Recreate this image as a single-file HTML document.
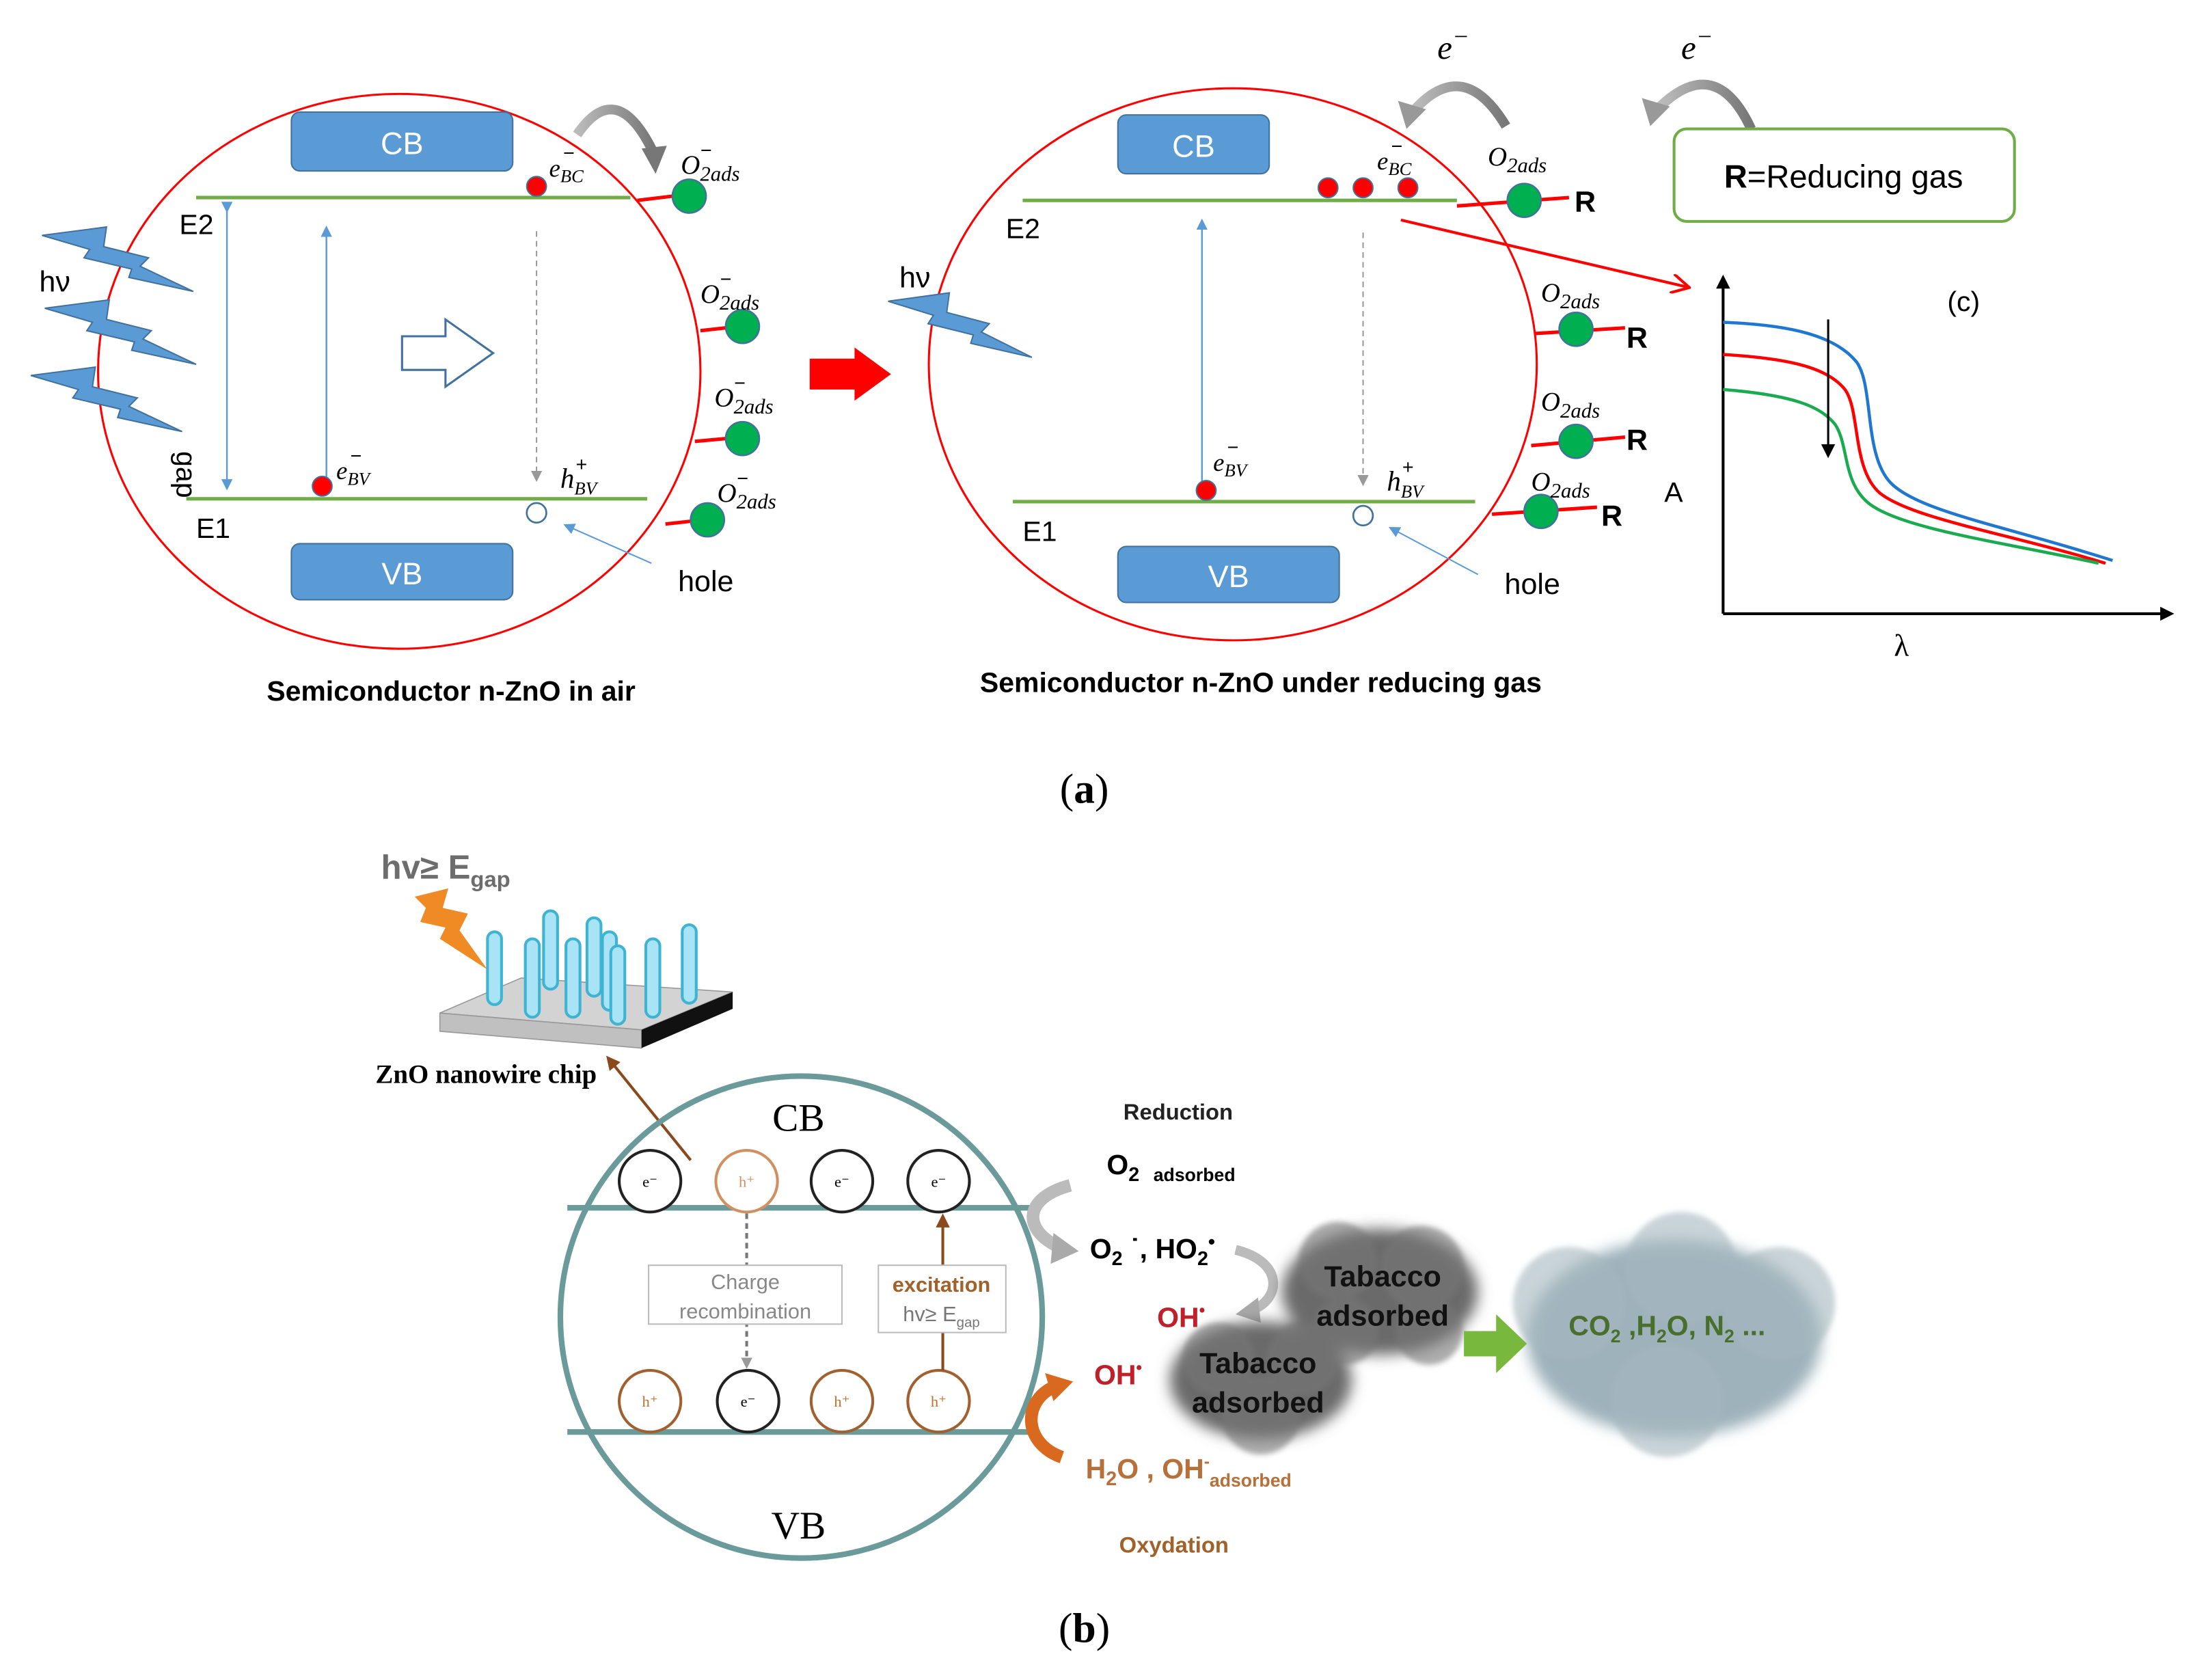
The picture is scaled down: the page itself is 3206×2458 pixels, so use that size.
<!DOCTYPE html>
<html><head><meta charset="utf-8"><style>html,body{margin:0;padding:0;background:#fff}svg{display:block}</style></head><body>
<svg xmlns="http://www.w3.org/2000/svg" width="3206" height="2458" viewBox="0 0 1564 1199" preserveAspectRatio="none" font-family="Liberation Sans, sans-serif">
<defs>
<marker id="ab" markerWidth="8" markerHeight="8" refX="6" refY="4" orient="auto" markerUnits="userSpaceOnUse"><path d="M0,0 L8,4 L0,8 z" fill="#5b9bd5"/></marker>
<marker id="ag" markerWidth="8" markerHeight="8" refX="6" refY="4" orient="auto" markerUnits="userSpaceOnUse"><path d="M0,0 L8,4 L0,8 z" fill="#999"/></marker>
<marker id="ak" markerWidth="10" markerHeight="10" refX="8" refY="5" orient="auto" markerUnits="userSpaceOnUse"><path d="M0,0 L10,5 L0,10 z" fill="#000"/></marker>
<marker id="ar" markerWidth="14" markerHeight="14" refX="12" refY="7" orient="auto" markerUnits="userSpaceOnUse"><path d="M0,0 L13,7 L0,14" fill="none" stroke="red" stroke-width="2"/></marker>
<marker id="abr" markerWidth="10" markerHeight="10" refX="8" refY="5" orient="auto" markerUnits="userSpaceOnUse"><path d="M0,0 L10,5 L0,10 z" fill="#8b4a1c"/></marker>
<linearGradient id="gr" x1="0" x2="1"><stop offset="0" stop-color="#bbb"/><stop offset="1" stop-color="#777"/></linearGradient>
<g id="bolt"><polygon points="0,0 46,-6 44,8 76,16 70,22 108,40 62,30 64,24 30,16 34,10" fill="#5b9bd5" stroke="#41719c" stroke-width="1"/></g>
<filter id="bl" x="-20%" y="-20%" width="140%" height="140%"><feGaussianBlur stdDeviation="5"/></filter>
<filter id="bl2" x="-20%" y="-20%" width="140%" height="140%"><feGaussianBlur stdDeviation="2"/></filter>
</defs>

<!-- ===== Panel a left ===== -->
<ellipse cx="285" cy="265" rx="215" ry="198" fill="none" stroke="red" stroke-width="1.5"/>
<rect x="208" y="80" width="158" height="42" rx="6" fill="#5b9bd5" stroke="#41719c"/>
<text x="287" y="110" font-size="22" fill="#fff" text-anchor="middle">CB</text>
<rect x="208" y="388" width="158" height="40" rx="6" fill="#5b9bd5" stroke="#41719c"/>
<text x="287" y="417" font-size="22" fill="#fff" text-anchor="middle">VB</text>
<line x1="140" y1="141" x2="450" y2="141" stroke="#70ad47" stroke-width="2.5"/>
<line x1="133" y1="356" x2="462" y2="356" stroke="#70ad47" stroke-width="2.5"/>
<text x="128" y="167" font-size="20">E2</text>
<text x="140" y="384" font-size="20">E1</text>
<text transform="translate(126,322) rotate(90)" font-size="20">gap</text>
<line x1="162" y1="150" x2="162" y2="348" stroke="#5b9bd5" stroke-width="1.2" marker-end="url(#ab)" marker-start="url(#ab)"/>
<line x1="233" y1="345" x2="233" y2="163" stroke="#5b9bd5" stroke-width="1.2" marker-end="url(#ab)"/>
<line x1="383" y1="165" x2="383" y2="342" stroke="#999" stroke-width="1" stroke-dasharray="4,3" marker-end="url(#ag)"/>
<polygon points="287,240 318,240 318,228 352,252 318,276 318,264 287,264" fill="#fff" stroke="#41719c" stroke-width="1.5"/>
<circle cx="383" cy="133" r="7" fill="red" stroke="#41719c"/>
<text x="392" y="126" font-size="18" font-style="italic" font-family="Liberation Serif, serif">e<tspan font-size="13" dy="4">BC</tspan></text><text x="402" y="114" font-size="14">−</text>
<circle cx="230" cy="347" r="7" fill="red" stroke="#41719c"/>
<text x="240" y="342" font-size="18" font-style="italic" font-family="Liberation Serif, serif">e<tspan font-size="13" dy="4">BV</tspan></text><text x="250" y="330" font-size="14">−</text>
<circle cx="383" cy="366" r="7" fill="#fff" stroke="#41719c" stroke-width="1.3"/>
<text x="400" y="348" font-size="20" font-style="italic" font-family="Liberation Serif, serif">h<tspan font-size="13" dy="5">BV</tspan></text><text x="411" y="336" font-size="14">+</text>
<text x="484" y="422" font-size="21">hole</text>
<line x1="465" y1="402" x2="404" y2="375" stroke="#5b9bd5" stroke-width="1" marker-end="url(#ab)"/>
<path d="M412,96 Q440,55 466,108" fill="none" stroke="url(#gr)" stroke-width="7"/>
<polygon points="458,106 476,104 468,124" fill="#777"/>
<g stroke="red" stroke-width="2.5">
<line x1="455" y1="143" x2="480" y2="140"/><line x1="500" y1="236" x2="518" y2="234"/><line x1="496" y1="315" x2="518" y2="313"/><line x1="475" y1="374" x2="493" y2="372"/></g>
<g fill="#00b050" stroke="#41719c" stroke-width="1.2">
<circle cx="492" cy="140" r="12"/><circle cx="530" cy="233" r="12"/><circle cx="530" cy="313" r="12"/><circle cx="505" cy="371" r="12"/></g>
<g font-family="Liberation Serif, serif" font-style="italic" font-size="19">
<text x="486" y="124">O<tspan font-size="15" dy="5">2ads</tspan></text>
<text x="500" y="216">O<tspan font-size="15" dy="5">2ads</tspan></text>
<text x="510" y="290">O<tspan font-size="15" dy="5">2ads</tspan></text>
<text x="512" y="358">O<tspan font-size="15" dy="5">2ads</tspan></text>
</g>
<g font-size="14"><text x="500" y="112">−</text><text x="514" y="204">−</text><text x="524" y="278">−</text><text x="526" y="346">−</text></g>
<use href="#bolt" transform="translate(30,168)"/>
<use href="#bolt" transform="translate(32,220)"/>
<use href="#bolt" transform="translate(22,268)"/>
<text x="28" y="208" font-size="21">hν</text>
<text x="322" y="500" font-size="20" font-weight="bold" text-anchor="middle">Semiconductor n-ZnO in air</text>

<polygon points="578,256 610,256 610,248 636,267 610,286 610,278 578,278" fill="red"/>

<!-- ===== Panel a middle ===== -->
<ellipse cx="880" cy="260" rx="217" ry="197" fill="none" stroke="red" stroke-width="1.5"/>
<rect x="798" y="82" width="108" height="42" rx="6" fill="#5b9bd5" stroke="#41719c"/>
<text x="852" y="112" font-size="22" fill="#fff" text-anchor="middle">CB</text>
<rect x="798" y="390" width="158" height="40" rx="6" fill="#5b9bd5" stroke="#41719c"/>
<text x="877" y="419" font-size="22" fill="#fff" text-anchor="middle">VB</text>
<line x1="730" y1="143" x2="1040" y2="143" stroke="#70ad47" stroke-width="2.5"/>
<line x1="723" y1="358" x2="1053" y2="358" stroke="#70ad47" stroke-width="2.5"/>
<text x="718" y="170" font-size="20">E2</text>
<text x="730" y="386" font-size="20">E1</text>
<line x1="858" y1="345" x2="858" y2="158" stroke="#5b9bd5" stroke-width="1.2" marker-end="url(#ab)"/>
<line x1="973" y1="166" x2="973" y2="345" stroke="#999" stroke-width="1" stroke-dasharray="4,3" marker-end="url(#ag)"/>
<g fill="red" stroke="#41719c"><circle cx="948" cy="134" r="7"/><circle cx="973" cy="134" r="7"/><circle cx="1005" cy="134" r="7"/><circle cx="861" cy="350" r="7"/></g>
<text x="983" y="121" font-size="18" font-style="italic" font-family="Liberation Serif, serif">e<tspan font-size="13" dy="4">BC</tspan></text><text x="993" y="109" font-size="14">−</text>
<text x="866" y="336" font-size="18" font-style="italic" font-family="Liberation Serif, serif">e<tspan font-size="13" dy="4">BV</tspan></text><text x="876" y="324" font-size="14">−</text>
<circle cx="973" cy="368" r="7" fill="#fff" stroke="#41719c" stroke-width="1.3"/>
<text x="990" y="350" font-size="20" font-style="italic" font-family="Liberation Serif, serif">h<tspan font-size="13" dy="5">BV</tspan></text><text x="1001" y="338" font-size="14">+</text>
<text x="1074" y="424" font-size="21">hole</text>
<line x1="1055" y1="410" x2="993" y2="377" stroke="#5b9bd5" stroke-width="1" marker-end="url(#ab)"/>
<line x1="1000" y1="157" x2="1205" y2="205" stroke="red" stroke-width="2" marker-end="url(#ar)"/>
<g stroke="red" stroke-width="2.5">
<line x1="1040" y1="147" x2="1120" y2="141"/><line x1="1096" y1="238" x2="1160" y2="234"/><line x1="1093" y1="318" x2="1160" y2="312"/><line x1="1065" y1="367" x2="1140" y2="362"/></g>
<g fill="#00b050" stroke="#41719c" stroke-width="1.2">
<circle cx="1088" cy="143" r="12"/><circle cx="1125" cy="235" r="12"/><circle cx="1125" cy="315" r="12"/><circle cx="1100" cy="365" r="12"/></g>
<g font-size="21" font-weight="bold"><text x="1124" y="151">R</text><text x="1161" y="248">R</text><text x="1161" y="321">R</text><text x="1143" y="375">R</text></g>
<g font-family="Liberation Serif, serif" font-style="italic" font-size="19">
<text x="1062" y="118">O<tspan font-size="15" dy="5">2ads</tspan></text>
<text x="1100" y="215">O<tspan font-size="15" dy="5">2ads</tspan></text>
<text x="1100" y="293">O<tspan font-size="15" dy="5">2ads</tspan></text>
<text x="1093" y="350">O<tspan font-size="15" dy="5">2ads</tspan></text>
</g>
<use href="#bolt" transform="translate(634,215) scale(0.95,1)"/>
<text x="642" y="205" font-size="21">hν</text>
<text x="900" y="494" font-size="20" font-weight="bold" text-anchor="middle">Semiconductor n-ZnO under reducing gas</text>

<path d="M1075,90 Q1045,40 1010,78" fill="none" stroke="url(#gr)" stroke-width="7"/>
<polygon points="998,72 1018,78 1004,92" fill="#999"/>
<text x="1026" y="42" font-size="24" font-style="italic" font-family="Liberation Serif, serif">e<tspan font-size="18" dy="-10">−</tspan></text>
<path d="M1250,92 Q1225,38 1185,76" fill="none" stroke="url(#gr)" stroke-width="7"/>
<polygon points="1172,70 1192,76 1178,90" fill="#999"/>
<text x="1200" y="42" font-size="24" font-style="italic" font-family="Liberation Serif, serif">e<tspan font-size="18" dy="-10">−</tspan></text>
<rect x="1195" y="92" width="243" height="66" rx="9" fill="#fff" stroke="#70ad47" stroke-width="2"/>
<text x="1316" y="134" font-size="23" text-anchor="middle"><tspan font-weight="bold">R</tspan>=Reducing gas</text>

<line x1="1230" y1="438" x2="1230" y2="198" stroke="#000" stroke-width="2" marker-end="url(#ak)"/>
<line x1="1230" y1="438" x2="1550" y2="438" stroke="#000" stroke-width="2" marker-end="url(#ak)"/>
<text x="1390" y="222" font-size="20">(c)</text>
<text x="1188" y="358" font-size="20">A</text>
<text x="1352" y="468" font-size="22" font-family="Liberation Serif, serif">λ</text>
<path d="M1230,230 C1280,232 1310,240 1325,258 C1338,275 1330,325 1350,345 C1370,365 1430,375 1508,400" fill="none" stroke="#1f77d0" stroke-width="2.2"/>
<path d="M1230,253 C1280,256 1305,263 1317,278 C1328,293 1322,335 1342,352 C1365,370 1430,380 1503,402" fill="none" stroke="red" stroke-width="2.2"/>
<path d="M1230,278 C1280,282 1300,290 1310,303 C1320,318 1315,345 1335,360 C1360,378 1430,387 1498,402" fill="none" stroke="#1aaa50" stroke-width="2.2"/>
<line x1="1305" y1="228" x2="1305" y2="325" stroke="#000" stroke-width="1.5" marker-end="url(#ak)"/>

<text x="774" y="573" font-size="30" text-anchor="middle" font-family="Liberation Serif, serif">(<tspan font-weight="bold">a</tspan>)</text>

<!-- ===== Panel b ===== -->
<text x="272" y="627" font-size="24" font-weight="bold" fill="#6d6d6d">hv≥ E<tspan font-size="16" dy="6">gap</tspan></text>
<polygon points="296,640 320,634 316,648 334,652 328,664 348,692 314,670 318,662 300,658 304,648" fill="#f08a24"/>
<polygon points="314,723 372,698 523,708 458,735" fill="#d3d3d3" stroke="#999" stroke-width="0.8"/>
<polygon points="314,723 458,735 458,748 314,736" fill="#c0c0c0" stroke="#999" stroke-width="0.8"/>
<polygon points="458,735 523,708 523,720 458,748" fill="#111"/>
<g fill="#a8e4f5" stroke="#3fb3d2" stroke-width="2">
<rect x="388" y="650" width="10" height="56" rx="5"/>
<rect x="419" y="655" width="10" height="56" rx="5"/>
<rect x="348" y="665" width="10" height="52" rx="5"/>
<rect x="487" y="660" width="10" height="56" rx="5"/>
<rect x="430" y="665" width="10" height="56" rx="5"/>
<rect x="375" y="670" width="10" height="56" rx="5"/>
<rect x="404" y="670" width="10" height="56" rx="5"/>
<rect x="461" y="670" width="10" height="56" rx="5"/>
<rect x="436" y="675" width="10" height="56" rx="5"/>
</g>
<text x="268" y="773" font-size="19" font-weight="bold" font-family="Liberation Serif, serif">ZnO nanowire chip</text>
<line x1="493" y1="828" x2="434" y2="755" stroke="#8b4a1c" stroke-width="2" marker-end="url(#abr)"/>

<circle cx="572" cy="940" r="172" fill="none" stroke="#6b9a9a" stroke-width="4"/>
<line x1="405" y1="862" x2="740" y2="862" stroke="#6b9a9a" stroke-width="4"/>
<line x1="405" y1="1022" x2="740" y2="1022" stroke="#6b9a9a" stroke-width="4"/>
<text x="570" y="807" font-size="28" text-anchor="middle" font-family="Liberation Serif, serif">CB</text>
<text x="570" y="1098" font-size="28" text-anchor="middle" font-family="Liberation Serif, serif">VB</text>
<g stroke-width="2" fill="#fff">
<circle cx="464" cy="843" r="22" stroke="#222"/><circle cx="533" cy="843" r="22" stroke="#d09060"/><circle cx="601" cy="843" r="22" stroke="#222"/><circle cx="670" cy="843" r="22" stroke="#222"/>
<circle cx="464" cy="1000" r="22" stroke="#a06030"/><circle cx="534" cy="1000" r="22" stroke="#222"/><circle cx="601" cy="1000" r="22" stroke="#a06030"/><circle cx="670" cy="1000" r="22" stroke="#a06030"/>
</g>
<g font-size="11" text-anchor="middle" font-family="Liberation Serif, serif">
<text x="464" y="847">e⁻</text><text x="533" y="847" fill="#d09060">h⁺</text><text x="601" y="847">e⁻</text><text x="670" y="847">e⁻</text>
<text x="464" y="1004" fill="#c07030">h⁺</text><text x="534" y="1004">e⁻</text><text x="601" y="1004" fill="#c07030">h⁺</text><text x="670" y="1004" fill="#c07030">h⁺</text>
</g>
<line x1="533" y1="866" x2="533" y2="975" stroke="#777" stroke-width="2" stroke-dasharray="4,3" marker-end="url(#ag)"/>
<rect x="463" y="903" width="138" height="42" fill="#fff" stroke="#bbb"/>
<text x="532" y="920" font-size="15" fill="#888" text-anchor="middle">Charge</text>
<text x="532" y="941" font-size="15" fill="#888" text-anchor="middle">recombination</text>
<line x1="673" y1="978" x2="673" y2="868" stroke="#8b4a1c" stroke-width="2" marker-end="url(#abr)"/>
<rect x="627" y="903" width="91" height="48" fill="#fff" stroke="#bbb"/>
<text x="672" y="922" font-size="15" font-weight="bold" fill="#a0622a" text-anchor="middle">excitation</text>
<text x="672" y="943" font-size="15" fill="#777" text-anchor="middle">hv≥ E<tspan font-size="10" dy="4">gap</tspan></text>

<text x="841" y="799" font-size="16" font-weight="bold" text-anchor="middle" fill="#222">Reduction</text>
<text x="790" y="838" font-size="20" font-weight="bold">O<tspan font-size="14" dy="5">2</tspan><tspan font-size="13" dx="10">adsorbed</tspan></text>
<path d="M764,846 C730,855 730,878 756,890" fill="none" stroke="#bbb" stroke-width="9"/>
<polygon points="752,880 770,893 750,902" fill="#aaa"/>
<text x="778" y="898" font-size="20" font-weight="bold">O<tspan font-size="14" dy="5">2</tspan><tspan dy="-5"> ˙, HO</tspan><tspan font-size="14" dy="5">2</tspan><tspan dy="-12" font-size="14">•</tspan></text>
<path d="M882,892 C915,900 915,925 896,934" fill="none" stroke="#bbb" stroke-width="7"/>
<polygon points="898,926 882,938 900,944" fill="#aaa"/>
<text x="826" y="947" font-size="20" font-weight="bold" fill="#c0202a">OH<tspan font-size="12" dy="-8">•</tspan></text>
<text x="781" y="988" font-size="20" font-weight="bold" fill="#c0202a">OH<tspan font-size="12" dy="-8">•</tspan></text>
<path d="M758,1040 C730,1030 730,1000 752,990" fill="none" stroke="#d9691f" stroke-width="9"/>
<polygon points="746,980 766,986 752,1000" fill="#d9691f"/>
<text x="775" y="1055" font-size="20" font-weight="bold" fill="#b8703a">H<tspan font-size="14" dy="5">2</tspan><tspan dy="-5">O , OH</tspan><tspan font-size="12" dy="-8">-</tspan><tspan font-size="13" dy="14">adsorbed</tspan></text>
<text x="838" y="1108" font-size="16" font-weight="bold" fill="#a0622a" text-anchor="middle">Oxydation</text>

<g filter="url(#bl)">
<ellipse cx="985" cy="922" rx="70" ry="45" fill="#6a6a6a"/>
<ellipse cx="900" cy="985" rx="65" ry="42" fill="#6a6a6a"/>
<ellipse cx="1195" cy="955" rx="105" ry="70" fill="#9eb2bb"/>
</g>
<g filter="url(#bl2)" opacity="0.6">
<circle cx="955" cy="900" r="28" fill="#777"/><circle cx="1015" cy="905" r="30" fill="#777"/><circle cx="1020" cy="950" r="24" fill="#777"/><circle cx="960" cy="950" r="24" fill="#777"/>
<circle cx="870" cy="970" r="26" fill="#777"/><circle cx="930" cy="970" r="26" fill="#777"/><circle cx="900" cy="1010" r="28" fill="#777"/>
<circle cx="1120" cy="930" r="40" fill="#a6b8c0"/><circle cx="1270" cy="930" r="40" fill="#a6b8c0"/><circle cx="1190" cy="1000" r="40" fill="#a6b8c0"/><circle cx="1200" cy="905" r="40" fill="#a6b8c0"/>
</g>
<text x="987" y="918" font-size="21" font-weight="bold" text-anchor="middle" fill="#111">Tabacco</text>
<text x="987" y="946" font-size="21" font-weight="bold" text-anchor="middle" fill="#111">adsorbed</text>
<text x="898" y="980" font-size="21" font-weight="bold" text-anchor="middle" fill="#111">Tabacco</text>
<text x="898" y="1008" font-size="21" font-weight="bold" text-anchor="middle" fill="#111">adsorbed</text>
<polygon points="1045,950 1068,950 1068,938 1090,959 1068,980 1068,968 1045,968" fill="#78b83c"/>
<text x="1190" y="953" font-size="20" font-weight="bold" fill="#4a6e2c" text-anchor="middle">CO<tspan font-size="13" dy="5">2</tspan><tspan dy="-5"> ,H</tspan><tspan font-size="13" dy="5">2</tspan><tspan dy="-5">O, N</tspan><tspan font-size="13" dy="5">2</tspan><tspan dy="-5"> ...</tspan></text>

<text x="774" y="1172" font-size="30" text-anchor="middle" font-family="Liberation Serif, serif">(<tspan font-weight="bold">b</tspan>)</text>
</svg>
</body></html>
